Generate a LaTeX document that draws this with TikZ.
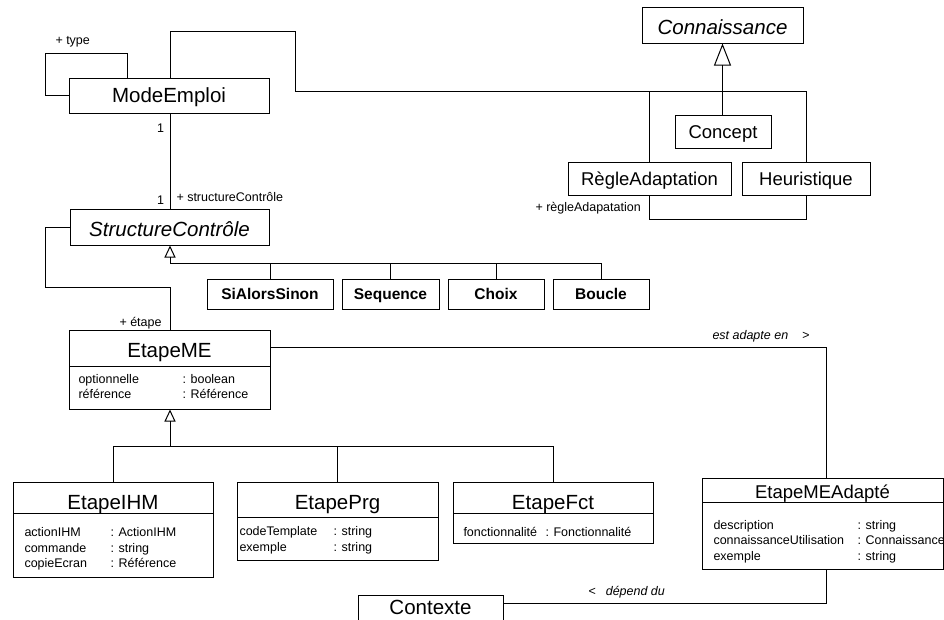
\documentclass[tikz,border=0pt]{standalone}
\usepackage{fontspec}
\setmainfont{Liberation Sans}
\usetikzlibrary{arrows.meta}
\begin{document}
\begin{tikzpicture}[x=1pt,y=-1pt,line width=1pt,
  box/.style={draw=black,line width=1pt,inner sep=0pt,fill=white},
  big/.style={font=\fontsize{20.5}{24}\selectfont,text height=14.7pt,text depth=0pt,inner sep=0pt},
  mid/.style={font=\fontsize{18.5}{22}\selectfont,text height=13.3pt,text depth=0pt,inner sep=0pt},
  ital/.style={font=\fontsize{20.5}{24}\selectfont\itshape,text height=19.6pt,text depth=0pt,inner sep=0pt},
  bbold/.style={font=\fontsize{15.5}{18}\selectfont\bfseries,text height=11.1pt,text depth=0pt,inner sep=0pt},
  sm/.style={font=\fontsize{12.5}{15}\selectfont,inner sep=0pt,text height=8.5pt,text depth=0pt},
  gen/.style={-{Triangle[open,length=12pt,width=11pt]}},
  genbig/.style={-{Triangle[open,length=22pt,width=17pt]}}]

\useasboundingbox (0,0) rectangle (944,619);
\clip (0,0) rectangle (944,619);

% ---- simple classes
\node[box,big,minimum width=200pt,minimum height=35pt] (me) at (169,95.5) {ModeEmploi};
\node[box,ital,minimum width=161pt,minimum height=36pt] (con) at (722.5,25) {Connaissance};
\node[box,mid,minimum width=96pt,minimum height=33pt] (cpt) at (723,131.5) {Concept};
\node[box,mid,minimum width=163pt,minimum height=33pt] (ra) at (649.5,178.5) {RègleAdaptation};
\node[box,mid,minimum width=128pt,minimum height=33pt] (heu) at (806,178.5) {Heuristique};
\node[box,ital,minimum width=199pt,minimum height=36pt] (sc) at (169.5,227) {StructureContrôle};
\node[box,bbold,minimum width=126pt,minimum height=30pt] (sas) at (270,294) {SiAlorsSinon};
\node[box,bbold,minimum width=97pt,minimum height=30pt] (seq) at (390.5,294) {Sequence};
\node[box,bbold,minimum width=96pt,minimum height=30pt] (cho) at (496,294) {Choix};
\node[box,bbold,minimum width=96pt,minimum height=30pt] (bou) at (601,294) {Boucle};

% ---- EtapeME
\node[box,minimum width=201pt,minimum height=79pt] (eme) at (169.5,369.5) {};
\node[big] (emeT) at (169.5,350) {EtapeME};
\draw (69,366) -- (270,366);
\node[sm,anchor=west] (emeA1) at (78,379) {optionnelle};
\node[sm,anchor=west] (emeA2) at (78,394) {référence};
\node[sm,anchor=west] (emeB1) at (182,379) {: boolean};
\node[sm,anchor=west] (emeB2) at (182,394) {: Référence};

% ---- EtapeIHM
\node[box,minimum width=200pt,minimum height=95pt] (ihm) at (113,529.5) {};
\node[big] (ihmT) at (113,502) {EtapeIHM};
\draw (13,513) -- (213,513);
\node[sm,anchor=west] (ihmA1) at (24,532) {actionIHM};
\node[sm,anchor=west] (ihmA2) at (24,548) {commande};
\node[sm,anchor=west] (ihmA3) at (24,563) {copieEcran};
\node[sm,anchor=west] (ihmB1) at (110,532) {: ActionIHM};
\node[sm,anchor=west] (ihmB2) at (110,548) {: string};
\node[sm,anchor=west] (ihmB3) at (110,563) {: Référence};

% ---- EtapePrg
\node[box,minimum width=201pt,minimum height=78pt] (prg) at (337.5,521) {};
\node[big] (prgT) at (337.5,502) {EtapePrg};
\draw (237,517) -- (438,517);
\node[sm,anchor=west] (prgA1) at (239,531) {codeTemplate};
\node[sm,anchor=west] (prgA2) at (239,547) {exemple};
\node[sm,anchor=west] (prgB1) at (333,531) {: string};
\node[sm,anchor=west] (prgB2) at (333,547) {: string};

% ---- EtapeFct
\node[box,minimum width=200pt,minimum height=61pt] (fct) at (553,512.5) {};
\node[big] (fctT) at (553,502) {EtapeFct};
\draw (453,513) -- (653,513);
\node[sm,anchor=west] (fctA1) at (463,532) {fonctionnalité};
\node[sm,anchor=west] (fctB1) at (545,532) {: Fonctionnalité};

% ---- EtapeMEAdapte
\node[box,minimum width=241pt,minimum height=91pt] (ada) at (822.5,523.5) {};
\node[mid] (adaT) at (822.5,491.5) {EtapeMEAdapté};
\draw (702,502) -- (943,502);
\node[sm,anchor=west] (adaA1) at (713,525) {description};
\node[sm,anchor=west] (adaA2) at (713,540) {connaissanceUtilisation};
\node[sm,anchor=west] (adaA3) at (713,556) {exemple};
\node[sm,anchor=west] (adaB1) at (857,525) {: string};
\node[sm,anchor=west] (adaB2) at (857,540) {: Connaissance};
\node[sm,anchor=west] (adaB3) at (857,556) {: string};

% ---- Contexte
\node[box,minimum width=145pt,minimum height=40pt] (ctx) at (430.5,615) {};
\node[big] (ctxT) at (430.5,607) {Contexte};

% ---- connectors
\draw (me.west) -- (45,95.5) -- (45,53) -- (127,53) -- (me.north -| 127,0);
\node[sm,anchor=west] (lblType) at (55,40) {+ type};

\draw (me.north -| 170,0) -- (170,31) -- (295,31) -- (295,91) -- (806,91) -- (heu.north);
\draw (ra.north) -- (ra.north |- 0,91);
\draw (ra.south) -- ++(0,24) -| (heu.south);
\node[sm,anchor=west] (lblRA) at (535,207) {+ règleAdapatation};

\draw[genbig] (con.south |- cpt.north) -- (con.south);

\draw (me.south -| 170,0) -- (sc.north -| 170,0);
\node[sm] (lbl1a) at (160.5,128) {1};
\node[sm] (lbl1b) at (160.5,200) {1};
\node[sm,anchor=west] (lblSC) at (176,197.5) {+ structureContrôle};

\coordinate (gj) at (170,263);
\draw[gen] (gj) -- (gj |- sc.south);
\draw (gj) -- (gj -| bou.north) -- (bou.north);
\draw (sas.north) -- (sas.north |- gj);
\draw (seq.north) -- (seq.north |- gj);
\draw (cho.north) -- (cho.north |- gj);

\draw (sc.west) -- (45,227) -- (45,287) -- (170,287) -- (eme.north -| 170,0);
\node[sm,anchor=west] (lblEt) at (119,322) {+ étape};

\coordinate (gj2) at (170,446);
\draw[gen] (gj2) -- (gj2 |- eme.south);
\draw (ihm.north |- gj2) -- (fct.north |- gj2);
\draw (ihm.north) -- (ihm.north |- gj2);
\draw (prg.north) -- (prg.north |- gj2);
\draw (fct.north) -- (fct.north |- gj2);

\draw ([yshift=-18pt]eme.north east) -| ([xshift=3.5pt]ada.north);
\node[sm,anchor=west] (lblAd) at (712,335) {\itshape est adapte en\hspace{14pt}>};

\draw ([yshift=12pt]ctx.east) -| ([xshift=3.5pt]ada.south);
\node[sm,anchor=west] (lblDep) at (588,591) {<\hspace{10pt}\itshape dépend du};
\end{tikzpicture}
\end{document}
